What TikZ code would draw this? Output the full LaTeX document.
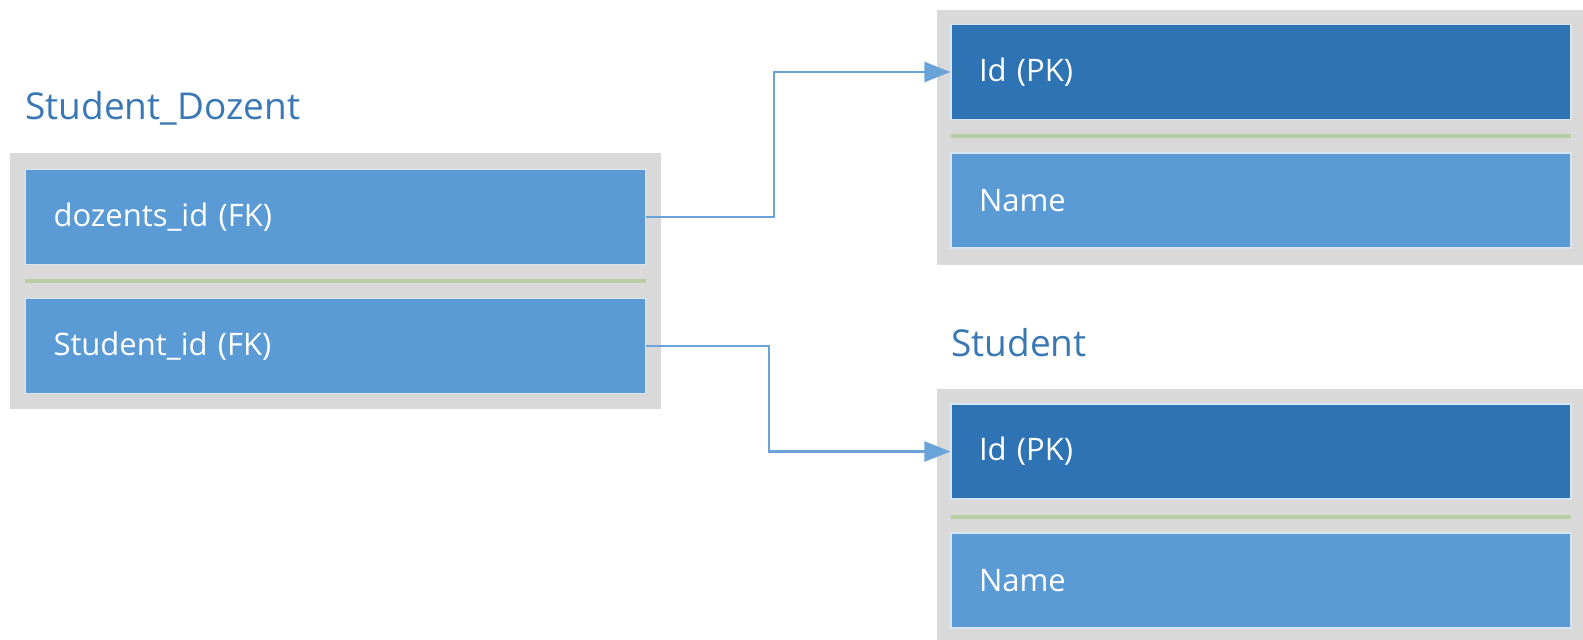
\documentclass[tikz,border=0pt]{standalone}
\usepackage{fontspec}
\setmainfont{Open Sans}
\usetikzlibrary{arrows.meta}
\definecolor{dk}{HTML}{2E74B5}
\definecolor{lt}{HTML}{5B9BD5}
\definecolor{gr}{HTML}{D9D9D9}
\definecolor{gn}{HTML}{B8CFA6}
\definecolor{ttl}{HTML}{3A78B5}
\definecolor{cn}{HTML}{6AA3D8}
\begin{document}
\begin{tikzpicture}[x=0.5pt,y=-0.5pt,
  rowbox/.style={rectangle, draw=white!75!lt, line width=0.6pt, minimum width=310pt, minimum height=47.5pt,
    text width=282pt, inner xsep=14pt, inner ysep=0pt, align=left, text=white,
    font=\fontsize{15.5}{18}\selectfont},
  tabtitle/.style={anchor=west, inner sep=0pt, text=ttl, font=\fontsize{18.5}{22}\selectfont},
  outerbox/.style={fill=gr},
  sepline/.style={gn, line width=2pt},
  conn/.style={cn, line width=1.3pt, -{Triangle[length=13pt,width=10pt]}}]
\useasboundingbox (0,0) rectangle (1583,640);
% left table
\node[tabtitle] (tsd) at (25,108) {Student\_Dozent};
\fill[outerbox] (10,153) rectangle (661,409);
\node[rowbox, fill=lt] (dz) at (335.5,217) {dozents\_id (FK)};
\draw[sepline] (25,281) -- (646,281);
\node[rowbox, fill=lt] (st) at (335.5,346) {Student\_id (FK)};
% top right table
\fill[outerbox] (937,10) rectangle (1583,265);
\node[rowbox, fill=dk] (did) at (1261,72) {Id (PK)};
\draw[sepline] (951,136) -- (1571,136);
\node[rowbox, fill=lt] (dname) at (1261,200.5) {Name};
% bottom right table
\node[tabtitle] (tst) at (951,343) {Student};
\fill[outerbox] (937,389) rectangle (1583,640);
\node[rowbox, fill=dk] (sid) at (1261,451.5) {Id (PK)};
\draw[sepline] (951,517) -- (1571,517);
\node[rowbox, fill=lt] (sname) at (1261,580.5) {Name};
% connectors
\draw[conn] (dz.east) -- ++(128,0) |- (did.west);
\draw[conn] (st.east) -- ++(123,0) |- (sid.west);
\end{tikzpicture}
\end{document}
